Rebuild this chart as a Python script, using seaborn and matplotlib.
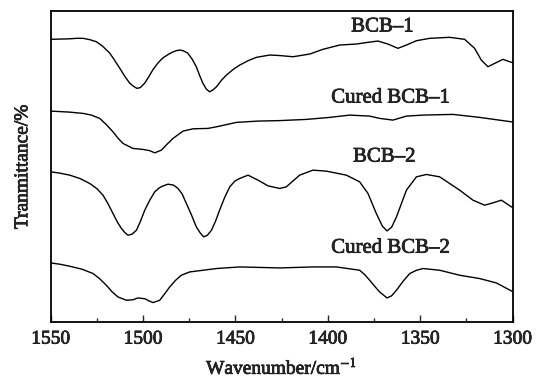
import numpy as np
import pandas as pd
import matplotlib
matplotlib.use("Agg")
import matplotlib.pyplot as plt
import matplotlib.patheffects as pe
import seaborn as sns
from matplotlib.ticker import MultipleLocator

# Values. Signal values are in "offset depth" units
# (larger = lower on the plot); the y axis carries no numbers.
bcb1_wn = [1550, 1540, 1536, 1532.5, 1528.9, 1525.3, 1522, 1518.1, 1515.5, 1512.7, 1510, 1507.3, 1505,
           1503.3, 1501.5, 1499.1, 1497, 1494.8, 1492, 1489.4, 1486.5, 1484, 1482, 1479.8, 1478, 1475.9,
           1473.5, 1471.2, 1469.5, 1467.7, 1465.8, 1464, 1462.3, 1460.3, 1457.5, 1454.9, 1451, 1447.7,
           1443, 1438.7, 1431.5, 1426.1, 1418.9, 1409.8, 1402.7, 1393.6, 1384.6, 1378.3, 1372.9, 1367.5,
           1362.1, 1357.5, 1352.1, 1344.9, 1334.1, 1326, 1320.6, 1317, 1313.4, 1309.7, 1305.3, 1300.7, 1300]
bcb1_val = [39.3, 38.8, 38.3, 38.3, 39.6, 41.7, 46, 53, 60, 68, 76, 83, 86.5,
            88.3, 87.5, 83, 77, 70, 63, 58, 54.5, 52, 50.6, 50, 51, 53,
            59, 66.7, 75, 83, 89, 91.7, 90, 86.7, 80, 75, 69, 65,
            60.5, 57.3, 55, 55.5, 56.7, 54, 49.3, 45, 44, 42.3, 41, 44,
            48.3, 45, 40.7, 38.3, 37.3, 39.3, 48.3, 60, 66.7, 63.3, 59.3, 62.3, 62.5]

cbcb1_wn = [1550, 1540, 1532.5, 1528, 1523.5, 1519.9, 1516.3, 1513.6, 1510.9, 1505.5, 1500.1, 1496.5,
            1493.7, 1490.1, 1487, 1483.8, 1481, 1478.4, 1473, 1464.9, 1460.3, 1449.5, 1438, 1426.1,
            1411.6, 1399, 1388.2, 1377.4, 1372, 1364.8, 1357.5, 1348.5, 1332.3, 1317.9, 1300.7, 1300]
cbcb1_val = [111, 112, 113.3, 115, 118.3, 124.5, 131.7, 138, 143.3, 148.3, 149.3, 150.5,
             152.7, 150, 144, 138.3, 134.5, 131, 128.7, 128.3, 126.7, 122.3, 121, 120.5,
             119.3, 117.3, 115, 116, 118.3, 120, 116, 115, 114.3, 117.3, 121.7, 122]

bcb2_wn = [1550, 1545, 1539.7, 1534, 1528.9, 1525, 1521.7, 1519, 1516.3, 1513.9, 1511.7, 1509.8, 1508.2,
           1506, 1503.6, 1501.4, 1499.1, 1496.4, 1493.7, 1491.5, 1489.5, 1486.5, 1483.5, 1481.1, 1478.8,
           1476.6, 1474, 1471.2, 1469, 1467.2, 1465.2, 1463, 1460.8, 1458.6, 1455.8, 1453.1, 1450.4,
           1447.7, 1443.2, 1437.8, 1432.4, 1426.1, 1422.5, 1415.3, 1408.1, 1400.8, 1390, 1382.8, 1378.3,
           1373.8, 1370.5, 1368, 1365.5, 1362.9, 1357.5, 1352.1, 1346.7, 1339.5, 1328.7, 1321.5, 1315.2,
           1310.7, 1306.1, 1300.7, 1300]
bcb2_val = [171.7, 173, 175, 178.5, 183.3, 188.5, 195, 203.5, 213.3, 222, 228.3, 232.5, 235,
            234, 230, 221, 210, 200, 191.7, 188, 186, 184, 185, 188.3, 194,
            203.3, 214, 226.7, 233, 236.7, 235, 230, 221, 210, 197, 186.7, 181,
            178.3, 175, 180, 185.7, 188.3, 186.7, 175, 170, 171, 175, 181.7, 193.3,
            213.3, 226, 230.7, 227, 216.7, 190, 176.7, 174.3, 176.7, 190, 200, 205,
            202.7, 200, 206.7, 207]

cbcb2_wn = [1550, 1545, 1539.7, 1533, 1527.1, 1523.5, 1519.9, 1516.8, 1513.6, 1509, 1505.5, 1502.8,
            1499, 1497, 1494.6, 1491, 1488.3, 1485.6, 1482.4, 1479.3, 1474.8, 1460.3, 1447.7, 1426.1,
            1408.1, 1395.4, 1382.8, 1380, 1377.4, 1374.7, 1372, 1368, 1365.5, 1362.9, 1359.3, 1355.7,
            1352, 1348.5, 1339.5, 1328.7, 1317.9, 1308.8, 1300.7, 1300]
cbcb2_val = [262.7, 264, 266, 269, 273.3, 278.5, 285, 291.5, 296.7, 300, 299.5, 297.7,
             298.5, 300.5, 302.3, 300, 293.5, 286.7, 280, 275, 271.7, 268.3, 266.7, 267.7,
             266.7, 266.7, 270, 274.5, 280, 286, 291.7, 297.7, 295.5, 290, 281, 273.3,
             270, 268.3, 270, 275, 278.3, 282.7, 290.7, 291]

series_names = ["BCB–1", "Cured BCB–1", "BCB–2", "Cured BCB–2"]
label_wn = [1370.5, 1366, 1369.5, 1366]
label_val = [27, 98, 157, 248]
x_ticks = [1550, 1500, 1450, 1400, 1350, 1300]

frames = []
for name, wn, val in zip(series_names,
                         [bcb1_wn, cbcb1_wn, bcb2_wn, cbcb2_wn],
                         [bcb1_val, cbcb1_val, bcb2_val, cbcb2_val]):
    frames.append(pd.DataFrame({"wn": wn, "val": val, "series": name}))
df = pd.concat(frames, ignore_index=True)

sns.set_style("ticks")
plt.rcParams["font.family"] = ["Liberation Serif", "DejaVu Serif"]
plt.rcParams["mathtext.fontset"] = "stix"

fig = plt.figure(figsize=(5.36, 3.78), dpi=100)
ax = fig.add_axes([0.0946, 0.1474, 0.8619, 0.8235])

sns.lineplot(data=df, x="wn", y="val", units="series", estimator=None, sort=True,
             color="black", linewidth=1.0, ax=ax, legend=False)
for ln in ax.get_lines():
    ln.set_solid_joinstyle("round")
    ln.set_solid_capstyle("round")

ax.set_xlim(1550, 1300)
ax.set_ylim(322, 11)
ax.set_xticks(x_ticks)
ax.xaxis.set_minor_locator(MultipleLocator(25))
ax.set_yticks([])
ax.tick_params(axis="x", which="major", direction="in", length=5, width=1.0,
               labelsize=14, pad=6, top=False)
ax.tick_params(axis="x", which="minor", direction="in", length=3, width=1.0, top=False)
for s in ax.spines.values():
    s.set_linewidth(1.3)
    s.set_color("black")

thick = [pe.withStroke(linewidth=0.5, foreground="black")]
ax.set_xlabel("Wavenumber/cm$^{-1}$", fontsize=14, labelpad=6, path_effects=thick)
ax.set_ylabel("Tranmittance/%", fontsize=14, labelpad=14, path_effects=thick)
for lab in ax.get_xticklabels():
    lab.set_path_effects(thick)

for name, xw, yv in zip(series_names, label_wn, label_val):
    ax.text(xw, yv, name, ha="center", va="center", fontsize=15, path_effects=thick)

fig.savefig("out.png", dpi=100)
